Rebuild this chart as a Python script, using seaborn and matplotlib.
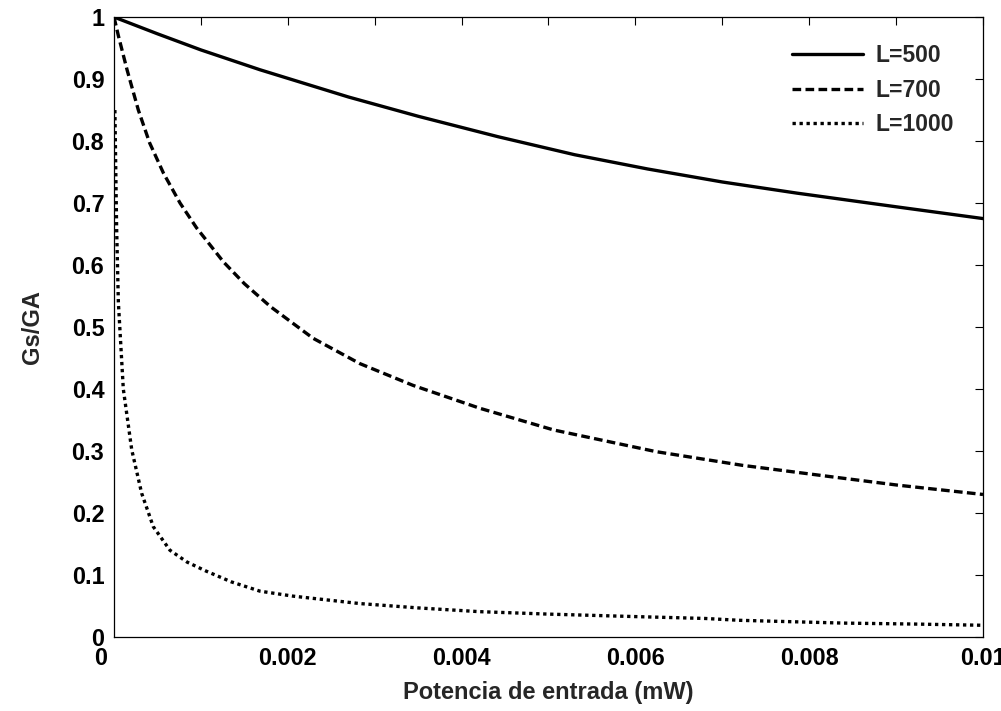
import numpy as np
import pandas as pd
import matplotlib
matplotlib.use("Agg")
import matplotlib.pyplot as plt
import matplotlib.transforms as mtransforms
import seaborn as sns

# valores
x_500 = [0, 0.0005, 0.001, 0.00168, 0.0027, 0.0035, 0.00442, 0.0053, 0.00614,
         0.007, 0.00786, 0.009, 0.01]
y_500 = [1.0, 0.973, 0.947, 0.915, 0.871, 0.84, 0.807, 0.778, 0.755,
         0.734, 0.716, 0.694, 0.675]

x_700 = [0, 0.00005, 0.00015, 0.00028, 0.00041, 0.00057, 0.00076, 0.00095,
         0.00126, 0.0015, 0.0018, 0.00229, 0.00283, 0.00344, 0.00421, 0.00506,
         0.00624, 0.00723, 0.00823, 0.00902, 0.01]
y_700 = [1.0, 0.97, 0.915, 0.85, 0.797, 0.748, 0.70, 0.66,
         0.605, 0.57, 0.533, 0.482, 0.441, 0.406, 0.369, 0.334,
         0.299, 0.277, 0.259, 0.245, 0.230]

x_1000 = [0.00001, 0.00003, 0.00005, 0.000107, 0.000204, 0.000318, 0.000452,
          0.000644, 0.00084, 0.00105, 0.00135, 0.00168, 0.00206, 0.00283,
          0.0035, 0.0042, 0.005, 0.006, 0.0068, 0.0072, 0.0084, 0.0092, 0.01]
y_1000 = [0.85, 0.66, 0.54, 0.40, 0.302, 0.232, 0.178,
          0.140, 0.121, 0.107, 0.089, 0.074, 0.066, 0.054,
          0.047, 0.041, 0.037, 0.033, 0.030, 0.027, 0.0225, 0.021, 0.019]

x_ticks = np.arange(0, 0.0101, 0.001)
x_labels = ['0', '', '0.002', '', '0.004', '', '0.006', '', '0.008', '', '0.01']
y_ticks = np.arange(0, 1.01, 0.1)
y_labels = ['0', '0.1', '0.2', '0.3', '0.4', '0.5', '0.6', '0.7', '0.8', '0.9', '1']

sns.set_style('white')
plt.rcParams['font.family'] = ['Liberation Sans', 'DejaVu Sans']
plt.rcParams['font.weight'] = 'bold'

fig = plt.figure(figsize=(10.01, 7.11), dpi=100)
ax = fig.add_axes([0.1139, 0.104, 0.8681, 0.872])

series = [('L=500', x_500, y_500, '-'),
          ('L=700', x_700, y_700, (0, (2.6, 1.3))),
          ('L=1000', x_1000, y_1000, (0, (1, 1.1)))]
for nombre, xs, ys, ls in series:
    df = pd.DataFrame({'P': xs, 'G': ys})
    sns.lineplot(data=df, x='P', y='G', ax=ax, color='black', linestyle=ls,
                 linewidth=2.4, label=nombre, estimator=None)

ax.set_xlim(0, 0.01)
ax.set_ylim(0, 1)
ax.set_xticks(x_ticks)
ax.set_xticklabels(x_labels)
ax.set_yticks(y_ticks)
ax.set_yticklabels(y_labels)
ax.tick_params(direction='in', length=6, width=0.8, top=True, right=True,
               labelsize=16.8, pad=7, colors='black')
for s in ax.spines.values():
    s.set_color('black')
    s.set_linewidth(0.9)

# el "0" del eje x queda desplazado a la izquierda, como en el original
lbl0 = ax.get_xticklabels()[0]
lbl0.set_transform(lbl0.get_transform() +
                   mtransforms.ScaledTranslation(-13 / 100, 0, fig.dpi_scale_trans))

ax.set_xlabel('Potencia de entrada (mW)', fontsize=17, fontweight='bold', labelpad=8)
ax.set_ylabel('Gs/GA', fontsize=17, fontweight='bold', labelpad=20)

ax.legend(loc='upper right', frameon=False, fontsize=16.5, handlelength=3.1,
          labelspacing=0.51, handletextpad=0.55, bbox_to_anchor=(0.99, 0.99))

fig.savefig('out.png', dpi=100)
